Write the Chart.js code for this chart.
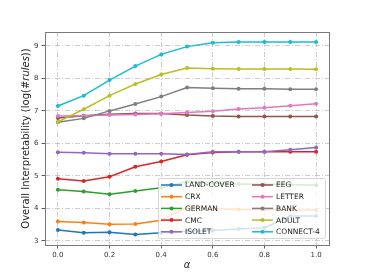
<!DOCTYPE html>
<html>
<head>
<meta charset="utf-8">
<script src="https://cdn.jsdelivr.net/npm/chart.js@4"></script>
<style>
  html, body { margin: 0; padding: 0; background: #fff; }
  #wrap { width: 366px; height: 274px; }
</style>
</head>
<body>
<div id="wrap"><canvas id="chart" width="366" height="274"></canvas></div>
<script>
// alpha values on the x axis
const alphas = [0.0, 0.1, 0.2, 0.3, 0.4, 0.5, 0.6, 0.7, 0.8, 0.9, 1.0];
const xTicks = [0.0, 0.2, 0.4, 0.6, 0.8, 1.0];
const yTicks = [3, 4, 5, 6, 7, 8, 9];

// dataset names, in legend order
const names = ['LAND-COVER', 'CRX', 'GERMAN', 'CMC', 'ISOLET', 'EEG', 'LETTER', 'BANK', 'ADULT', 'CONNECT-4'];

// log(#rules)
const landCover = [3.33, 3.25, 3.26, 3.19, 3.25, 3.29, 3.32, 3.36, 3.40, 3.76, 3.76];
const crx       = [3.59, 3.56, 3.51, 3.52, 3.63, 4.04, 3.99, 3.96, 3.96, 3.95, 3.95];
const german    = [4.57, 4.52, 4.43, 4.53, 4.63, 4.82, 4.77, 4.75, 4.74, 4.73, 4.71];
const cmc       = [4.91, 4.84, 4.97, 5.28, 5.44, 5.65, 5.72, 5.74, 5.74, 5.74, 5.74];
const isolet    = [5.73, 5.71, 5.68, 5.68, 5.68, 5.66, 5.74, 5.74, 5.74, 5.80, 5.87];
const eeg       = [6.78, 6.85, 6.90, 6.92, 6.92, 6.87, 6.84, 6.83, 6.83, 6.83, 6.83];
const letter    = [6.84, 6.85, 6.87, 6.89, 6.91, 6.95, 6.99, 7.06, 7.10, 7.16, 7.22];
const bank      = [6.65, 6.77, 7.00, 7.21, 7.44, 7.72, 7.70, 7.68, 7.68, 7.67, 7.67];
const adult     = [6.66, 7.05, 7.47, 7.83, 8.12, 8.32, 8.30, 8.29, 8.29, 8.29, 8.28];
const connect4  = [7.15, 7.47, 7.95, 8.38, 8.74, 8.98, 9.10, 9.12, 9.12, 9.12, 9.12];

const series = [landCover, crx, german, cmc, isolet, eeg, letter, bank, adult, connect4];

// matplotlib tab10
const colors = ['#1f77b4', '#ff7f0e', '#2ca02c', '#d62728', '#9467bd',
                '#8c564b', '#e377c2', '#7f7f7f', '#bcbd22', '#17becf'];

const FONT = '"DejaVu Sans", sans-serif';

const datasets = names.map(function(name, i) {
  return {
    label: name,
    data: alphas.map((a, j) => ({ x: a, y: series[i][j] })),
    borderColor: colors[i],
    backgroundColor: colors[i],
    borderWidth: 1.5,
    pointRadius: 2,
    pointBorderWidth: 0,
    pointHoverRadius: 2,
    tension: 0,
    order: names.length - i   // first series drawn first, like matplotlib
  };
});

// frame around the plot area
const framePlugin = {
  id: 'frame',
  afterDatasetsDraw(chart) {
    const a = chart.chartArea, ctx = chart.ctx;
    ctx.save();
    ctx.strokeStyle = '#7a7a7a';
    ctx.lineWidth = 1;
    ctx.strokeRect(Math.round(a.left) + 0.5, Math.round(a.top) + 0.5,
                   Math.round(a.right - a.left), Math.round(a.bottom - a.top));
    ctx.restore();
  }
};

// axis titles (y title has italic "rules")
const titlePlugin = {
  id: 'titles',
  afterDraw(chart) {
    const a = chart.chartArea, ctx = chart.ctx;
    ctx.save();
    ctx.fillStyle = '#222';
    ctx.textBaseline = 'middle';
    // x title
    ctx.font = 'italic 10px ' + FONT;
    ctx.textAlign = 'center';
    ctx.fillText('\u03b1', (a.left + a.right) / 2, 265);
    // y title
    const parts = [
      ['normal 10px ' + FONT, 'Overall Interpretability (log(#'],
      ['italic 10px ' + FONT, 'rules'],
      ['normal 10px ' + FONT, '))']
    ];
    let total = 0;
    parts.forEach(p => { ctx.font = p[0]; total += ctx.measureText(p[1]).width; });
    ctx.translate(26, (a.top + a.bottom) / 2);
    ctx.rotate(-Math.PI / 2);
    ctx.textAlign = 'left';
    let x = -total / 2;
    parts.forEach(p => { ctx.font = p[0]; ctx.fillText(p[1], x, 0); x += ctx.measureText(p[1]).width; });
    ctx.restore();
  }
};

// legend inside the plot, lower right, two columns
const legendPlugin = {
  id: 'innerLegend',
  afterDraw(chart) {
    const a = chart.chartArea, ctx = chart.ctx;
    const left = a.right - 171, right = a.right - 4;
    const top = a.bottom - 67, bottom = a.bottom - 7;
    ctx.save();
    ctx.fillStyle = 'rgba(255,255,255,0.8)';
    ctx.strokeStyle = 'rgba(204,204,204,0.8)';
    ctx.lineWidth = 1;
    ctx.beginPath();
    if (ctx.roundRect) ctx.roundRect(left + 0.5, top + 0.5, right - left, bottom - top, 2);
    else ctx.rect(left + 0.5, top + 0.5, right - left, bottom - top);
    ctx.fill();
    ctx.stroke();
    ctx.font = '7.5px ' + FONT;
    ctx.textBaseline = 'middle';
    ctx.textAlign = 'left';
    names.forEach(function(name, i) {
      const col = Math.floor(i / 5), row = i % 5;
      const x0 = left + 3 + col * 91;
      const y = top + 7 + row * 11.7;
      ctx.strokeStyle = colors[i];
      ctx.lineWidth = 1.5;
      ctx.beginPath();
      ctx.moveTo(x0, y);
      ctx.lineTo(x0 + 21, y);
      ctx.stroke();
      ctx.fillStyle = colors[i];
      ctx.beginPath();
      ctx.arc(x0 + 10.5, y, 2, 0, Math.PI * 2);
      ctx.fill();
      ctx.fillStyle = '#222';
      ctx.fillText(name, x0 + 24, y + 0.5);
    });
    ctx.restore();
  }
};

const gridOpts = {
  color: 'rgba(176,176,176,0.8)',
  lineWidth: 0.8,
  drawTicks: true,
  tickLength: 3.5,
  tickColor: '#333',
  tickWidth: 0.8
};

new Chart(document.getElementById('chart'), {
  type: 'line',
  data: { datasets: datasets },
  options: {
    responsive: false,
    animation: false,
    events: [],
    layout: { padding: { top: 32, right: 37, left: 0, bottom: 0 } },
    plugins: {
      legend: { display: false },
      tooltip: { enabled: false }
    },
    scales: {
      x: {
        type: 'linear',
        min: -0.05,
        max: 1.05,
        afterBuildTicks: scale => { scale.ticks = xTicks.map(v => ({ value: v })); },
        afterFit: scale => { scale.height = 29; },
        ticks: {
          callback: v => v.toFixed(1),
          font: { family: FONT, size: 7 },
          color: '#333',
          padding: 2,
          maxRotation: 0
        },
        grid: gridOpts,
        border: { display: false, dash: [5, 2, 1, 2] }
      },
      y: {
        type: 'linear',
        min: 2.87,
        max: 9.43,
        afterBuildTicks: scale => { scale.ticks = yTicks.map(v => ({ value: v })); },
        afterFit: scale => { scale.width = 45; },
        ticks: {
          callback: v => String(v),
          font: { family: FONT, size: 7 },
          color: '#333',
          padding: 3
        },
        grid: gridOpts,
        border: { display: false, dash: [5, 2, 1, 2] }
      }
    }
  },
  plugins: [framePlugin, titlePlugin, legendPlugin]
});
</script>
</body>
</html>
